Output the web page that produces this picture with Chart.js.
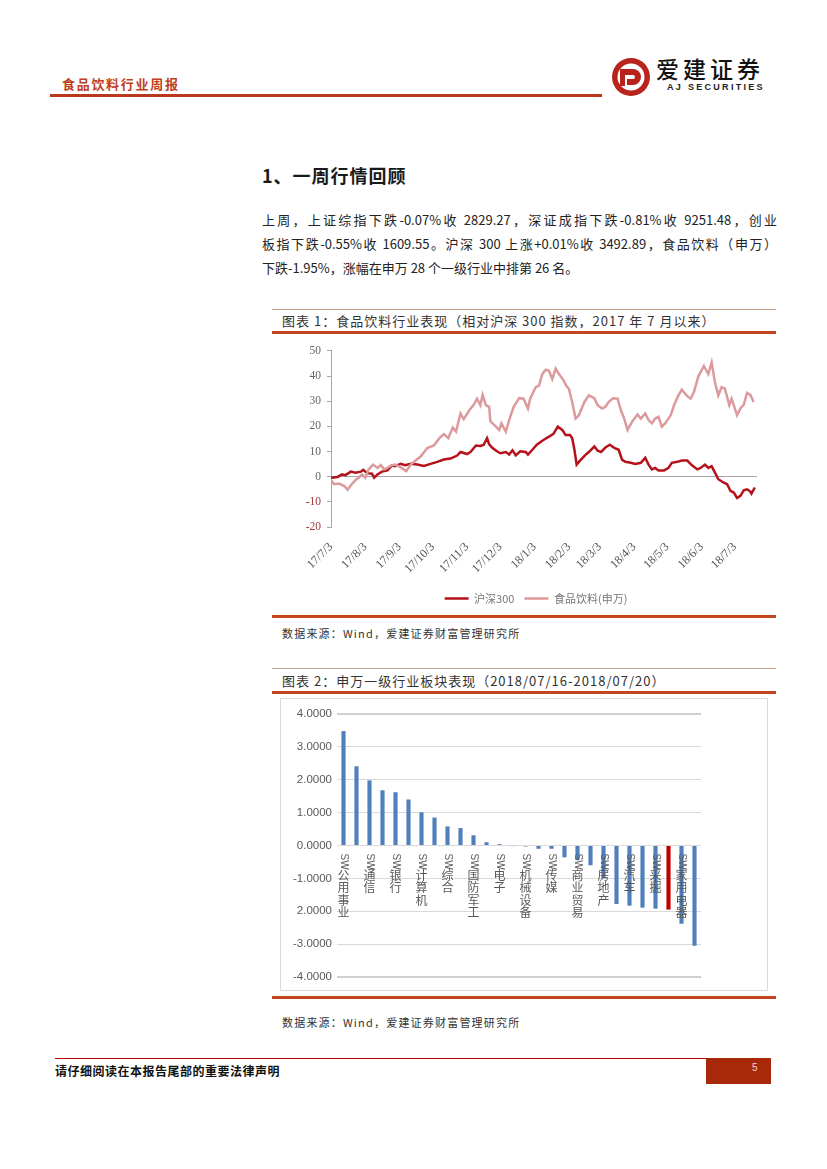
<!DOCTYPE html>
<html>
<head>
<meta charset="utf-8">
<script src="https://cdn.jsdelivr.net/npm/chart.js@4.4.1/dist/chart.umd.min.js"></script>
<style>
  html, body { margin: 0; padding: 0; background: #fff; }
  body { width: 827px; height: 1169px; position: relative; overflow: hidden;
         font-family: "Noto Sans CJK SC", "Liberation Sans", sans-serif; color: #222; }
  .abs { position: absolute; }
  .hdr { left: 62px; top: 76px; font-size: 13px; font-weight: 700; color: #c0401e; letter-spacing: 1.7px; line-height: 16px; }
  .hdr-line { left: 50px; top: 94px; width: 552px; height: 3px; background: #b83a1a; }
  .brand { left: 656px; top: 54px; font-size: 23px; font-weight: 500; letter-spacing: 4px; line-height: 28px; color: #111; }
  .brand-en { left: 667px; top: 82px; font-family: "Liberation Sans", sans-serif; font-size: 9px; font-weight: 700; letter-spacing: 2.3px; color: #222; }
  .h1 { left: 262px; top: 162px; font-size: 18px; font-weight: 700; line-height: 26px; letter-spacing: 1px; color: #1a1a1a; }
  .para { left: 262px; top: 208px; width: 515px; font-size: 13px; line-height: 24px; color: #222; }
  .para div { text-align: justify; text-align-last: justify; }
  .para div.last { text-align-last: left; }
  .thin { left: 272px; width: 504px; height: 1px; background: #c9a08a; }
  .thick { left: 272px; width: 504px; height: 2.5px; background: #c4461f; }
  .cap { left: 282px; font-size: 13px; line-height: 16px; color: #333; letter-spacing: 1px; }
  .src { left: 282px; font-size: 11px; line-height: 14px; color: #333; letter-spacing: 1.2px; }
  .box2 { left: 280px; top: 698px; width: 486px; height: 291px; border: 1px solid #d9d9d9; }
  .foot-line { left: 55px; top: 1058px; width: 651px; height: 1px; background: #c00000; }
  .foot { left: 55px; top: 1064px; font-size: 12px; font-weight: 700; letter-spacing: 0.5px; line-height: 14px; color: #111; }
  .pg { left: 706px; top: 1058px; width: 65px; height: 26px; background: #a8280a; }
  .pgn { left: 752px; top: 1062px; font-family: "Liberation Sans", sans-serif; font-size: 10px; color: #f3d7c8; }
</style>
</head>
<body>
<div class="abs hdr">食品饮料行业周报</div>
<div class="abs hdr-line"></div>
<svg class="abs" style="left:610px;top:56px" width="42" height="42" viewBox="0 0 42 42">
  <circle cx="21" cy="21" r="19" fill="#b8231b"/>
  <circle cx="21" cy="21" r="13.5" fill="#fff"/>
  <path d="M10 13 h13 a8 8 0 0 1 0 16 h-6 v-6 h6 a2 2 0 0 0 0 -4 h-13 z" fill="#b8231b"/>
  <path d="M10 19 h5 v11 h-5 z" fill="#b8231b"/>
</svg>
<div class="abs brand">爱建证券</div>
<div class="abs brand-en">AJ SECURITIES</div>

<div class="abs h1">1、一周行情回顾</div>
<div class="abs para">
  <div>上周，上证综指下跌-0.07%收 2829.27，深证成指下跌-0.81%收 9251.48，创业</div>
  <div>板指下跌-0.55%收 1609.55。沪深 300 上涨+0.01%收 3492.89，食品饮料（申万）</div>
  <div class="last">下跌-1.95%，涨幅在申万 28 个一级行业中排第 26 名。</div>
</div>

<div class="abs thin" style="top:309px"></div>
<div class="abs cap" style="top:313px">图表 1：食品饮料行业表现（相对沪深 300 指数，2017 年 7 月以来）</div>
<div class="abs thick" style="top:331px"></div>
<canvas id="c1" class="abs" style="left:270px;top:338px" width="552" height="276"></canvas>
<div class="abs thick" style="top:615px"></div>
<div class="abs src" style="top:626px">数据来源：Wind，爱建证券财富管理研究所</div>

<div class="abs thin" style="top:668px"></div>
<div class="abs cap" style="top:673px">图表 2：申万一级行业板块表现（2018/07/16-2018/07/20）</div>
<div class="abs thick" style="top:691px"></div>
<div class="abs box2"></div>
<canvas id="c2" class="abs" style="left:281px;top:699px" width="486" height="291"></canvas>
<div class="abs thick" style="top:996px"></div>
<div class="abs src" style="top:1015px">数据来源：Wind，爱建证券财富管理研究所</div>

<div class="abs foot-line"></div>
<div class="abs foot">请仔细阅读在本报告尾部的重要法律声明</div>
<div class="abs pg"></div>
<div class="abs pgn">5</div>

<script>
// ---- 图表1 数据（2017-07-03 起的天数，相对涨跌 %）----
var monthDays = [0, 31, 62, 92, 123, 153, 184, 215, 243, 274, 304, 335, 365];
var monthLabels = ["17/7/3", "17/8/3", "17/9/3", "17/10/3", "17/11/3", "17/12/3", "18/1/3",
  "18/2/3", "18/3/3", "18/4/3", "18/5/3", "18/6/3", "18/7/3"];
var lineTicks = [-20, -10, 0, 10, 20, 30, 40, 50];

var hsDay = [0, 6, 10, 13, 18, 22, 27, 29, 33, 37, 39, 42, 46, 51, 55, 58, 63, 67, 72, 78, 84, 90,
  96, 102, 108, 114, 117, 123, 126, 131, 135, 138, 141, 143, 146, 150, 153, 158, 161, 164, 167, 171,
  176, 178, 182, 186, 192, 197, 201, 205, 209, 212, 216, 218, 220, 222, 225, 230, 233, 238, 241, 244,
  248, 252, 256, 260, 263, 266, 271, 275, 280, 284, 287, 290, 293, 296, 301, 305, 308, 313, 317, 322,
  326, 331, 334, 338, 341, 344, 347, 350, 355, 358, 361, 364, 367, 370, 373, 376, 379, 380, 383];
var hsVal = [-0.4, -0.1, 0.9, 0.6, 2.0, 1.6, 2.0, 2.7, 1.4, 1.2, -0.4, 0.9, 2.0, 2.5, 4.4, 4.2, 5.1,
  4.6, 5.1, 4.8, 4.3, 5.1, 5.9, 6.8, 7.2, 8.4, 9.8, 9.0, 9.8, 12.4, 12.2, 12.7, 15.3, 12.9, 11.4, 10.1,
  9.3, 9.8, 8.8, 10.5, 8.5, 10.1, 9.8, 8.8, 10.7, 12.7, 14.6, 15.9, 17.0, 19.9, 18.6, 16.6, 16.6, 15.3,
  10.7, 4.8, 6.4, 8.7, 9.8, 12.0, 10.3, 9.8, 11.6, 12.7, 11.4, 10.7, 6.8, 5.9, 5.5, 5.1, 5.5, 7.5, 4.8,
  2.9, 3.5, 2.5, 2.5, 3.5, 5.5, 5.9, 6.4, 6.4, 4.6, 2.9, 3.5, 4.8, 3.5, 4.2, 1.6, -1.0, -2.4, -3.0,
  -5.6, -6.3, -8.5, -7.6, -5.4, -5.0, -5.9, -6.7, -4.3];

var fbDay = [0, 3, 7, 12, 15, 18, 22, 25, 28, 31, 34, 38, 42, 45, 48, 51, 54, 58, 63, 68, 72, 77, 81,
  87, 93, 98, 102, 106, 110, 113, 117, 120, 125, 129, 132, 135, 137, 140, 143, 144, 149, 152, 154, 158,
  161, 165, 170, 174, 178, 180, 185, 188, 191, 194, 197, 200, 203, 206, 210, 213, 215, 218, 221, 224,
  229, 233, 238, 241, 245, 248, 251, 255, 259, 262, 265, 268, 272, 277, 280, 284, 287, 290, 293, 296,
  299, 302, 307, 310, 314, 317, 322, 325, 328, 332, 337, 341, 344, 347, 350, 353, 356, 360, 362, 367,
  370, 373, 376, 379, 382];
var fbVal = [-1.4, -3.0, -2.7, -3.7, -5.2, -3.4, -1.4, -0.4, 0.9, -0.4, 2.9, 4.8, 3.5, 4.6, 2.9, 3.5,
  4.4, 4.8, 3.7, 2.2, 4.8, 6.6, 8.0, 11.4, 12.4, 15.3, 16.9, 15.3, 19.5, 17.9, 25.1, 22.9, 26.4, 28.6,
  31.0, 28.4, 32.5, 28.4, 27.8, 22.1, 19.9, 18.6, 21.2, 17.9, 22.5, 27.7, 31.2, 31.0, 27.1, 31.0, 35.6,
  36.2, 40.8, 42.5, 42.1, 38.8, 43.0, 40.8, 38.4, 35.9, 34.9, 29.7, 23.1, 24.4, 29.7, 32.3, 31.2, 28.4,
  27.1, 27.8, 29.7, 31.2, 31.0, 26.4, 23.1, 18.6, 21.8, 24.7, 23.1, 25.1, 22.5, 21.2, 23.1, 23.8, 19.9,
  21.2, 24.4, 28.4, 32.3, 34.6, 32.0, 31.0, 33.6, 39.9, 44.0, 40.8, 45.4, 37.5, 32.3, 35.6, 35.0, 28.4,
  31.0, 24.4, 27.1, 28.6, 33.3, 32.5, 29.7];

// ---- 图表2 数据（周涨跌幅 %，按降序）----
var barCats = ["SW公用事业", "SW建筑装饰", "SW通信", "SW钢铁", "SW银行", "SW非银金融", "SW计算机",
  "SW建筑材料", "SW综合", "SW交通运输", "SW国防军工", "SW电气设备", "SW电子", "SW化工", "SW机械设备",
  "SW有色金属", "SW传媒", "SW轻工制造", "SW商业贸易", "SW纺织服装", "SW房地产", "SW农林牧渔", "SW汽车",
  "SW休闲服务", "SW采掘", "SW食品饮料", "SW家用电器", "SW医药生物"];
var barVals = [3.48, 2.41, 1.98, 1.68, 1.62, 1.40, 1.01, 0.85, 0.58, 0.53, 0.31, 0.10, 0.04, -0.02,
  -0.03, -0.10, -0.10, -0.36, -0.45, -0.60, -1.00, -1.78, -1.83, -1.89, -1.92, -1.95, -2.38, -3.05];
var barTickLabels = ["-4.0000", "-3.0000", "2.0000", "-1.0000", "0.0000", "1.0000", "2.0000", "3.0000", "4.0000"];
var highlightCat = "SW食品饮料";

(function () {
  "use strict";

  var SERIF = "'Liberation Serif', 'Noto Sans CJK SC', serif";
  var CJK = "'Noto Sans CJK SC', sans-serif";

  function pairs(xs, ys) {
    var out = [];
    for (var i = 0; i < xs.length; i++) out.push({ x: xs[i], y: ys[i] });
    return out;
  }

  function buildLineChart() {
    var ctx = document.getElementById("c1").getContext("2d");
    return new Chart(ctx, {
      type: "line",
      data: {
        datasets: [
          { label: "沪深300", data: pairs(hsDay, hsVal), borderColor: "#b5121b", backgroundColor: "#b5121b",
            borderWidth: 2.5, pointRadius: 0, tension: 0, order: 1 },
          { label: "食品饮料(申万)", data: pairs(fbDay, fbVal), borderColor: "#dc9a9c", backgroundColor: "#dc9a9c",
            borderWidth: 2.5, pointRadius: 0, tension: 0, order: 0 },
        ],
      },
      options: {
        responsive: false,
        animation: false,
        layout: { padding: { top: 2, right: 20, left: 0, bottom: 0 } },
        scales: {
          x: {
            type: "linear",
            min: 0,
            max: 385,
            afterBuildTicks: function (axis) {
              axis.ticks = monthDays.map(function (d) { return { value: d }; });
            },
            afterFit: function (s) { s.height = 56; },
            grid: { display: false, drawTicks: false },
            border: { display: false },
            ticks: {
              autoSkip: false,
              minRotation: 45,
              maxRotation: 45,
              padding: 13,
              color: "#555",
              font: { family: SERIF, size: 12 },
              callback: function (v) {
                var i = monthDays.indexOf(v);
                return i < 0 ? "" : monthLabels[i];
              },
            },
          },
          y: {
            min: -20,
            max: 50,
            afterBuildTicks: function (axis) {
              axis.ticks = lineTicks.map(function (v) { return { value: v }; });
            },
            afterFit: function (s) { s.width = 61; },
            border: { display: true, color: "#a6a6a6" },
            grid: {
              color: function (c) { return c.tick && c.tick.value === 0 ? "#a6a6a6" : "rgba(0,0,0,0)"; },
              tickColor: "#a6a6a6",
              tickLength: 4,
            },
            ticks: {
              autoSkip: false,
              padding: 6,
              font: { family: SERIF, size: 11.5 },
              color: function (c) { return c.tick.value < 0 ? "#9c3a3a" : "#666"; },
            },
          },
          // 右侧留白，使图例居中于参考位置
          gap: {
            type: "linear",
            position: "right",
            afterFit: function (s) { s.width = 45; },
            ticks: { display: false },
            grid: { display: false },
            border: { display: false },
          },
        },
        plugins: {
          tooltip: { enabled: false },
          legend: {
            position: "bottom",
            labels: {
              usePointStyle: true,
              pointStyle: "line",
              pointStyleWidth: 24,
              padding: 10,
              color: "#777",
              font: { family: CJK, size: 11 },
              sort: function (a, b) { return a.datasetIndex - b.datasetIndex; },
            },
          },
        },
      },
    });
  }

  // 纵排类目标签：SW 旋转，汉字逐字竖排，位置取自类目轴
  var verticalLabels = {
    id: "verticalLabels",
    afterDatasetsDraw: function (chart) {
      var xs = chart.scales.x;
      var ys = chart.scales.y;
      var c = chart.ctx;
      var top = ys.getPixelForValue(0) + 8;
      c.save();
      c.fillStyle = "#595959";
      for (var i = 0; i < barCats.length; i += 2) {
        var x = xs.getPixelForValue(i);
        c.save();
        c.translate(x, top);
        c.rotate(Math.PI / 2);
        c.font = "10px 'Liberation Sans', sans-serif";
        c.textAlign = "left";
        c.textBaseline = "middle";
        c.fillText("SW", 0, 0);
        var sw = c.measureText("SW").width;
        c.restore();
        var y = top + sw + 1;
        var chars = barCats[i].replace("SW", "").split("");
        c.font = "12px " + CJK;
        c.textAlign = "center";
        c.textBaseline = "top";
        for (var k = 0; k < chars.length; k++) {
          c.fillText(chars[k], x, y - 1);
          y += 12.3;
        }
      }
      c.restore();
    },
  };

  function buildBarChart() {
    var ctx = document.getElementById("c2").getContext("2d");
    var colors = barCats.map(function (n) { return n === highlightCat ? "#c00000" : "#4f7fbc"; });
    return new Chart(ctx, {
      type: "bar",
      data: {
        labels: barCats,
        datasets: [{ data: barVals, backgroundColor: colors, barPercentage: 0.32, categoryPercentage: 1 }],
      },
      plugins: [verticalLabels],
      options: {
        responsive: false,
        animation: false,
        layout: { padding: { top: 15, right: 66, left: 0, bottom: 5 } },
        scales: {
          x: {
            ticks: { display: false },
            grid: { display: false },
            border: { display: false },
          },
          y: {
            min: -4,
            max: 4,
            afterFit: function (s) { s.width = 56; },
            border: { display: false },
            grid: {
              drawTicks: false,
              color: function (c) { return Math.abs(c.tick.value) === 4 ? "#d0d0d0" : "#d9d9d9"; },
              lineWidth: function (c) { return Math.abs(c.tick.value) === 4 ? 2 : 1; },
            },
            ticks: {
              stepSize: 1,
              padding: 5,
              color: "#595959",
              font: { family: "'Liberation Sans', sans-serif", size: 11.5 },
              callback: function (v) { return barTickLabels[v + 4]; },
            },
          },
        },
        plugins: { legend: { display: false }, tooltip: { enabled: false } },
      },
    });
  }

  buildLineChart();
  buildBarChart();
})();
</script>
</body>
</html>
